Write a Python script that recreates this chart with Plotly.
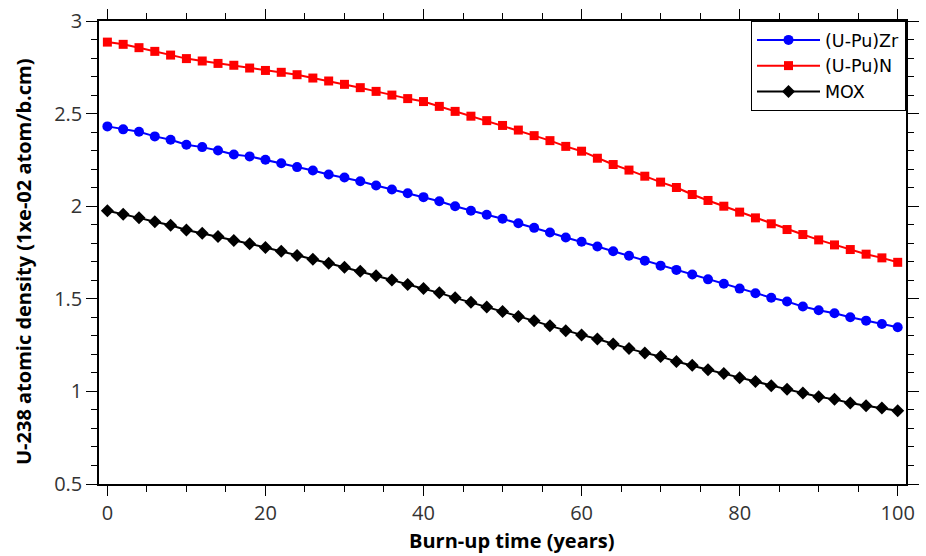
import plotly.graph_objects as go

years = list(range(0, 101, 2))

upu_zr = [2.431, 2.415, 2.402, 2.377, 2.359, 2.332, 2.319, 2.301, 2.279, 2.269,
          2.251, 2.232, 2.211, 2.193, 2.171, 2.155, 2.135, 2.112, 2.090, 2.070,
          2.049, 2.027, 2.000, 1.975, 1.954, 1.932, 1.908, 1.883, 1.858, 1.831,
          1.808, 1.782, 1.757, 1.732, 1.706, 1.679, 1.656, 1.631, 1.605, 1.581,
          1.555, 1.530, 1.506, 1.485, 1.458, 1.438, 1.422, 1.400, 1.382, 1.364,
          1.346]

upu_n = [2.886, 2.874, 2.856, 2.836, 2.816, 2.797, 2.784, 2.771, 2.761, 2.746,
         2.733, 2.723, 2.710, 2.692, 2.676, 2.658, 2.640, 2.620, 2.600, 2.581,
         2.565, 2.539, 2.512, 2.486, 2.462, 2.436, 2.411, 2.381, 2.354, 2.323,
         2.297, 2.259, 2.225, 2.195, 2.162, 2.130, 2.101, 2.063, 2.031, 2.000,
         1.968, 1.937, 1.905, 1.874, 1.847, 1.818, 1.791, 1.766, 1.741, 1.721,
         1.697]

mox = [1.975, 1.957, 1.937, 1.916, 1.897, 1.872, 1.854, 1.836, 1.815, 1.797,
       1.777, 1.757, 1.734, 1.714, 1.692, 1.670, 1.649, 1.625, 1.602, 1.577,
       1.556, 1.532, 1.505, 1.481, 1.456, 1.431, 1.405, 1.381, 1.354, 1.328,
       1.305, 1.283, 1.256, 1.231, 1.208, 1.188, 1.161, 1.141, 1.117, 1.096,
       1.074, 1.054, 1.031, 1.011, 0.991, 0.971, 0.957, 0.937, 0.923, 0.910,
       0.896]

series = [
    ("(U-Pu)Zr", upu_zr, "#0000ff", "circle", 10),
    ("(U-Pu)N", upu_n, "#ff0000", "square", 9),
    ("MOX", mox, "#000000", "diamond", 10),
]

x_title = "Burn-up time (years)"
y_title = "U-238 atomic density (1xe-02 atom/b.cm)"

fig = go.Figure()
for name, vals, color, sym, size in series:
    fig.add_trace(go.Scatter(
        x=years, y=vals, name=name, mode="lines+markers",
        line=dict(color=color, width=2),
        marker=dict(symbol=sym, size=size, color=color, line=dict(width=0)),
    ))

FONT = "Open Sans"
axis_common = dict(
    showline=True, linecolor="black", linewidth=1.5, mirror="allticks",
    ticks="outside", tickcolor="black", tickwidth=1,
    showgrid=False, zeroline=False,
    tickfont=dict(family=FONT, size=20, color="#333333"),
)

fig.update_xaxes(
    range=[-1.06, 101.05], tick0=0, dtick=20, ticklen=10,
    minor=dict(dtick=5, ticks="outside", ticklen=6, tickcolor="black", showgrid=False),
    **axis_common,
)
fig.update_yaxes(
    range=[0.5, 3.0], tick0=0.5, dtick=0.5, ticklen=11,
    minor=dict(dtick=0.1, ticks="outside", ticklen=6, tickcolor="black", showgrid=False),
    **axis_common,
)

fig.add_annotation(
    text="<b>" + x_title + "</b>", xref="paper", yref="paper",
    x=0.5118, y=-0.123, xanchor="center", yanchor="middle", showarrow=False,
    font=dict(family=FONT, size=20, color="black"),
)
fig.add_annotation(
    text="<b>" + y_title + "</b>", xref="paper", yref="paper", textangle=-90,
    x=-0.0929, y=0.4795, xanchor="center", yanchor="middle", showarrow=False,
    font=dict(family=FONT, size=20, color="black"),
)

fig.update_layout(
    width=926, height=556,
    margin=dict(l=99, r=20, t=21, b=72, autoexpand=False),
    plot_bgcolor="white", paper_bgcolor="white",
    legend=dict(
        x=1, y=1, xanchor="right", yanchor="top",
        bordercolor="black", borderwidth=1, bgcolor="white",
        font=dict(family="DejaVu Sans", size=17.5, color="black"),
        tracegroupgap=0, itemwidth=63,
    ),
)

fig.write_html("out.html")
